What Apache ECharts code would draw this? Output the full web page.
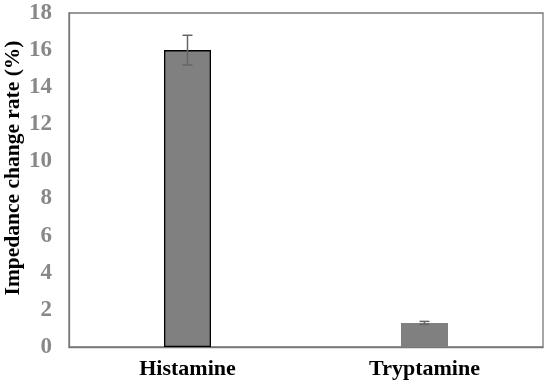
<!DOCTYPE html>
<html><head><meta charset="utf-8">
<script src="https://cdn.jsdelivr.net/npm/echarts@6/dist/echarts.min.js"></script>
<style>html,body{margin:0;padding:0;background:#fff}#c{width:550px;height:386px}</style>
</head><body><div id="c"></div>
<script>
const categories = ['Histamine', 'Tryptamine'];
const values = [16.0, 1.3];
const errors = [0.8, 0.08];
const yTicks = [0, 2, 4, 6, 8, 10, 12, 14, 16, 18];

const chart = echarts.init(document.getElementById('c'));
const font = '"Liberation Serif", "Times New Roman", serif';
chart.setOption({
  animation: false,
  grid: { left: 69, right: 7, top: 13, bottom: 39, show: true, borderColor: '#777', borderWidth: 1.3, outerBoundsMode: 'none', containLabel: false },
  xAxis: {
    type: 'category', data: categories,
    axisTick: { show: false },
    axisLine: { show: true, lineStyle: { color: '#777', width: 1.3 } },
    axisLabel: { color: '#000', fontFamily: font, fontWeight: 'bold', fontSize: 22, margin: 11 }
  },
  yAxis: {
    type: 'value', min: 0, max: 18, interval: 2,
    splitLine: { show: false },
    axisLine: { show: true, lineStyle: { color: '#777', width: 1.3 } },
    axisTick: { show: false },
    axisLabel: { color: '#888', fontFamily: font, fontWeight: 'bold', fontSize: 23, margin: 17 },
    name: 'Impedance change rate (%)', nameLocation: 'middle', nameGap: 45, nameMoveOverlap: false,
    nameTextStyle: { color: '#000', fontFamily: font, fontWeight: 'bold', fontSize: 21.5, padding: [0, 0, 0, 24] }
  },
  series: [
    {
      type: 'bar', barWidth: 47,
      data: values.map((v, i) => ({
        value: v,
        itemStyle: i === 0 ? { color: '#808080', borderColor: '#000', borderWidth: 1.3 } : { color: '#808080' }
      }))
    },
    {
      type: 'custom',
      data: values.map((v, i) => [i, v - errors[i], v + errors[i]]),
      renderItem: function (params, api) {
        const x = api.coord([api.value(0), 0])[0];
        const lo = api.coord([api.value(0), api.value(1)])[1];
        const hi = api.coord([api.value(0), api.value(2)])[1];
        const w = 5;
        const st = { stroke: '#666', lineWidth: 1.5 };
        return {
          type: 'group', children: [
            { type: 'line', shape: { x1: x, y1: lo, x2: x, y2: hi }, style: st },
            { type: 'line', shape: { x1: x - w, y1: hi, x2: x + w, y2: hi }, style: st },
            { type: 'line', shape: { x1: x - w, y1: lo, x2: x + w, y2: lo }, style: st }
          ]
        };
      },
      z: 10
    }
  ]
});
</script></body></html>
